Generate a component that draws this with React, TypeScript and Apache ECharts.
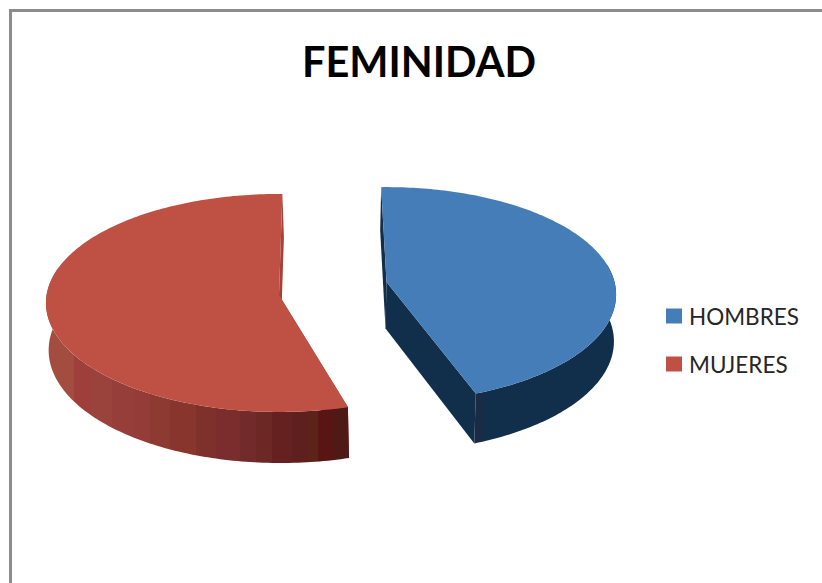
import React, { useEffect, useRef } from "react";
import * as echarts from "echarts";

const chartTitle = "FEMINIDAD";
const categories = ["HOMBRES", "MUJERES"];
const values = [45, 55];

const topColors = ["#457DB8", "#BE5144"];
const cutColors = ["#112F4A", "#A2423A"];
const START_DEG = -1.5;
const SWEEP_DEG = 358;
const GAP_DEG = 4.4;
const WALL_FROM = 80;
const WALL_TO = 285;

// Drawing geometry of each exploded, tilted slice (perspective factor k).
const sliceGeometry = [
  { cx: 386.5, cy: 282, rx: 228, ry: 106, k: 0.117, depth: 46.5, bx: -1, brx: 0.995, bry: 1.03 },
  { cx: 279, cy: 295, rx: 232.4, ry: 108.4, k: 0.073, depth: 47, bx: 1.5, brx: 0.995, bry: 1.035 },
];

// Hard-edged vertical shading bands of the side walls: [screen x, colour].
const wallBands: [number, string][][] = [
  [[380, "#112F4A"], [474, "#1A2B45"], [483, "#112F4A"], [620, "#112F4A"]],
  [
    [44, "#A34C40"], [74, "#9F3F3B"], [92, "#9A423C"], [112, "#963E39"], [134, "#933C38"],
    [150, "#8D3A32"], [170, "#87352D"], [196, "#7E312B"], [216, "#7A2D2C"], [240, "#722A2A"],
    [256, "#6C2824"], [272, "#642120"], [292, "#5E1F1E"], [308, "#5E2318"], [318, "#581514"],
    [334, "#4F1A16"], [352, "#4F1A16"],
  ],
];

function project(g: any, deg: number, bottom: boolean): number[] {
  const t = (deg * Math.PI) / 180;
  const u = Math.sin(t);
  const v = -Math.cos(t);
  const w = 1 - g.k * v;
  const cx = g.cx + (bottom ? g.bx : 0);
  const cy = g.cy + (bottom ? g.depth : 0);
  const rx = g.rx * (bottom ? g.brx : 1);
  const ry = g.ry * (bottom ? g.bry : 1);
  return [cx + (rx * u) / w, cy + (ry * v) / w];
}

function arc(g: any, a0: number, a1: number, bottom: boolean): number[][] {
  const pts: number[][] = [];
  const n = Math.max(2, Math.ceil(Math.abs(a1 - a0)));
  for (let i = 0; i <= n; i++) pts.push(project(g, a0 + ((a1 - a0) * i) / n, bottom));
  return pts;
}

function wallFill(bands: [number, string][]) {
  const x0 = bands[0][0];
  const x1 = bands[bands.length - 1][0];
  const stops: { offset: number; color: string }[] = [];
  for (let i = 0; i < bands.length - 1; i++) {
    stops.push({ offset: (bands[i][0] - x0) / (x1 - x0), color: bands[i][1] });
    stops.push({ offset: (bands[i + 1][0] - x0) / (x1 - x0), color: bands[i][1] });
  }
  return new echarts.graphic.LinearGradient(x0, 0, x1, 0, stops, true);
}

function sliceRenderer(index: number) {
  return () => {
    const total = values.reduce((a, b) => a + b, 0);
    let a0 = START_DEG;
    for (let i = 0; i < index; i++) a0 += (values[i] / total) * SWEEP_DEG + GAP_DEG;
    const a1 = a0 + (values[index] / total) * SWEEP_DEG;
    const g = sliceGeometry[index];
    const apexTop = [g.cx, g.cy];
    const apexBottom = [g.cx + g.bx, g.cy + g.depth];
    const face = (deg: number) => ({
      type: "polygon",
      shape: { points: [apexTop, project(g, deg, false), project(g, deg, true), apexBottom] },
      style: { fill: cutColors[index] },
    });
    const w0 = Math.max(a0, WALL_FROM);
    const w1 = Math.min(a1, WALL_TO);
    const wall = [...arc(g, w0, w1, false), ...arc(g, w1, w0, true)];
    return {
      type: "group",
      children: [
        face(a0),
        face(a1),
        { type: "polygon", shape: { points: wall }, style: { fill: wallFill(wallBands[index]) } },
        {
          type: "polygon",
          shape: { points: [apexTop, ...arc(g, a0, a1, false)] },
          style: { fill: topColors[index] },
        },
      ],
    };
  };
}

export default function App() {
  const ref = useRef<HTMLDivElement>(null);
  useEffect(() => {
    const chart = echarts.init(ref.current!, undefined, { renderer: "svg" });
    chart.setOption({
      animation: false,
      backgroundColor: "#ffffff",
      title: {
        text: chartTitle,
        left: 414,
        top: 35,
        textAlign: "center",
        textStyle: { fontFamily: "Lato", fontWeight: "bold", fontSize: 41.5, color: "#000000" },
      },
      legend: {
        orient: "vertical",
        left: 661,
        top: 296,
        icon: "rect",
        itemWidth: 16,
        itemHeight: 15,
        itemGap: 18,
        data: categories,
        textStyle: { fontFamily: "Lato", fontSize: 22.5, color: "#262626", lineHeight: 30, padding: [0, 0, 0, 2] },
      },
      graphic: [
        {
          type: "polyline",
          shape: { points: [[10.5, 583], [10.5, 10.5], [822, 10.5]] },
          style: { stroke: "#8C8C8C", lineWidth: 3, fill: "none" },
          silent: true,
        },
      ],
      series: categories.map((name, i) => ({
        type: "custom",
        name,
        coordinateSystem: "none",
        color: topColors[i],
        itemStyle: { color: topColors[i] },
        silent: true,
        data: [values[i]],
        renderItem: sliceRenderer(i),
      })),
    });
    return () => chart.dispose();
  }, []);
  return <div ref={ref} style={{ position: "absolute", left: 0, top: 0, width: 822, height: 583 }} />;
}
